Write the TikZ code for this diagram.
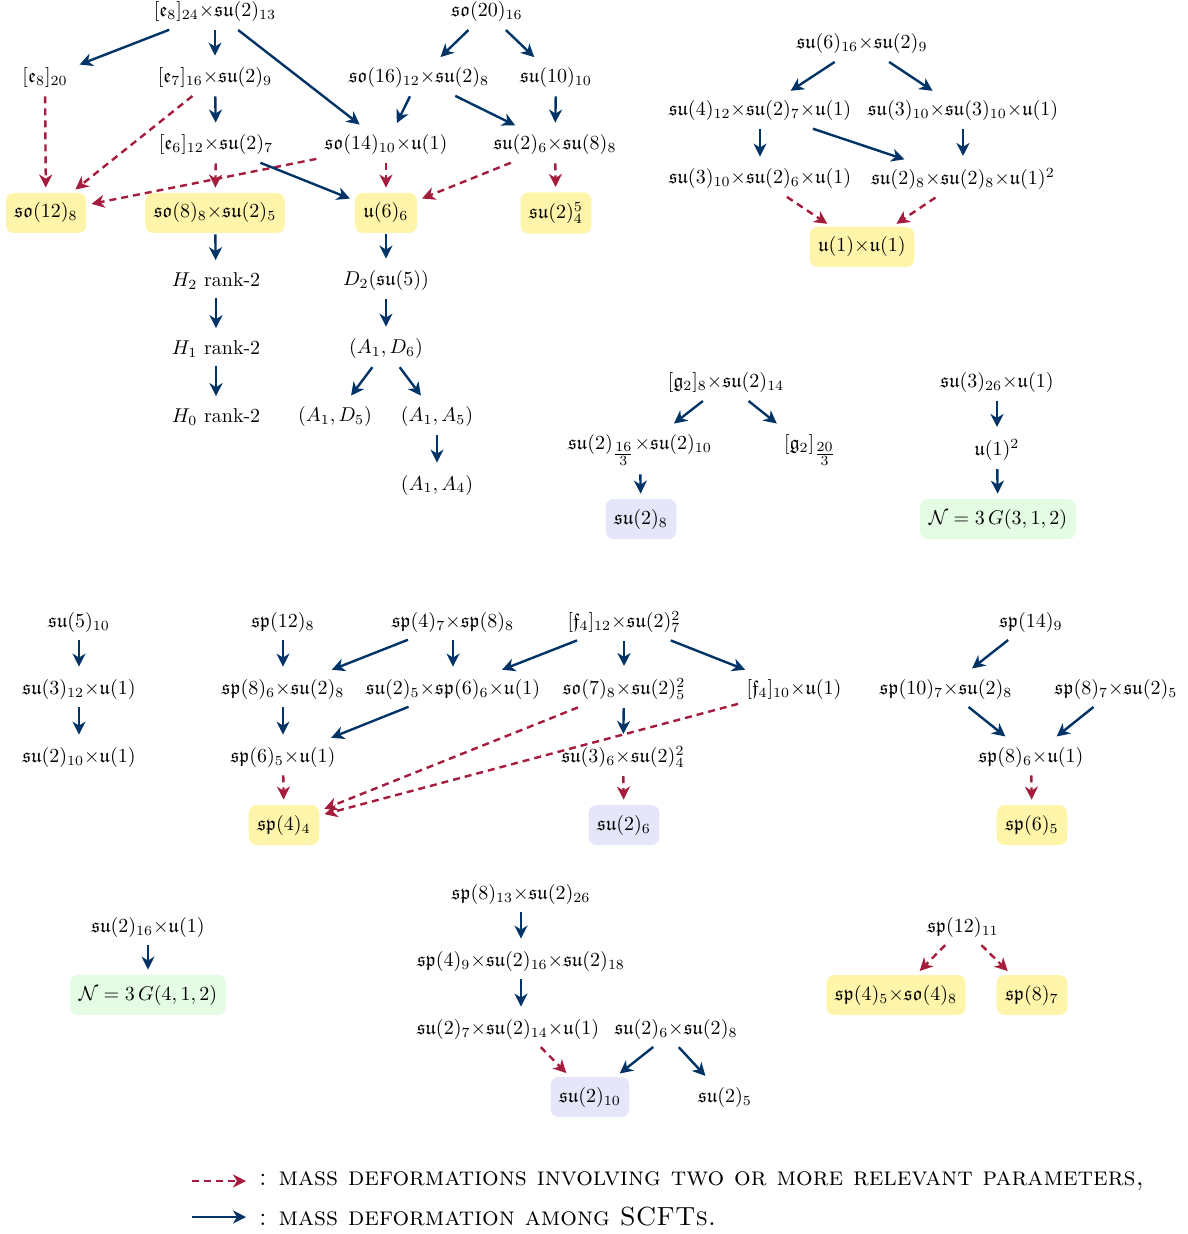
\documentclass[tikz,border=0pt]{standalone}
\usepackage{amsmath,amssymb}
\usetikzlibrary{arrows.meta}
\definecolor{navy}{RGB}{0,51,102}
\definecolor{crim}{RGB}{166,28,60}
\definecolor{yfill}{RGB}{255,245,170}
\definecolor{bfill}{RGB}{230,230,250}
\definecolor{gfill}{RGB}{228,251,228}
\newcommand{\Fsu}{\mathfrak{su}}
\newcommand{\Fso}{\mathfrak{so}}
\newcommand{\Fsp}{\mathfrak{sp}}
\newcommand{\Fu}{\mathfrak{u}}
\newcommand{\X}{{\times}}
\tikzset{
  t/.style={inner sep=3.5pt},
  boxbase/.style={rounded corners=4pt, inner xsep=4.3pt, inner ysep=5pt, minimum height=20pt},
  yb/.style={boxbase, fill=yfill},
  bb/.style={boxbase, fill=bfill},
  gb/.style={boxbase, fill=gfill},
  solidarr/.style={draw=navy, line width=1.2pt, -{Stealth[length=6.5pt,width=6.5pt,inset=2pt]}, shorten <=0.5pt, shorten >=2.5pt},
  dasharr/.style={draw=crim, line width=1.2pt, dash pattern=on 3.5pt off 2.5pt, -{Stealth[length=6.5pt,width=6.5pt,inset=2pt]}, shorten <=0.5pt, shorten >=2.5pt}
}
\begin{document}
\begin{tikzpicture}[x=0.5pt,y=-0.5pt]
\useasboundingbox (0,0) rectangle (1187,1234);
% group 1
\node[t] (e824) at (215,12) {$[\mathfrak{e}_8]_{24}\X\Fsu(2)_{13}$};
\node[t] (so20) at (487,12) {$\Fso(20)_{16}$};
\node[t] (e820) at (45,78) {$[\mathfrak{e}_8]_{20}$};
\node[t] (e7) at (215,78) {$[\mathfrak{e}_7]_{16}\X\Fsu(2)_{9}$};
\node[t] (so16) at (419,78) {$\Fso(16)_{12}\X\Fsu(2)_{8}$};
\node[t] (su10) at (556,78) {$\Fsu(10)_{10}$};
\node[t] (e6) at (216,145) {$[\mathfrak{e}_6]_{12}\X\Fsu(2)_{7}$};
\node[t] (so14) at (386,145) {$\Fso(14)_{10}\X\Fu(1)$};
\node[t] (su2su8) at (555,145) {$\Fsu(2)_{6}\X\Fsu(8)_{8}$};
\node[yb] (so12) at (46,213) {$\Fso(12)_{8}$};
\node[yb] (so8) at (215,213) {$\Fso(8)_{8}\X\Fsu(2)_{5}$};
\node[yb] (u6) at (386,213) {$\Fu(6)_{6}$};
\node[yb] (su25) at (556,213) {$\Fsu(2)^5_{4}$};
\node[t] (H2) at (216,281) {$H_2$ rank-2};
\node[t] (D2) at (386,281) {$D_2(\Fsu(5))$};
\node[t] (H1) at (216,349) {$H_1$ rank-2};
\node[t] (A1D6) at (386,349) {$(A_1,D_6)$};
\node[t] (H0) at (216,417) {$H_0$ rank-2};
\node[t] (A1D5) at (335,417) {$(A_1,D_5)$};
\node[t] (A1A5) at (437,417) {$(A_1,A_5)$};
\node[t] (A1A4) at (437,485) {$(A_1,A_4)$};
\draw[solidarr] (e824) -- (e820);
\draw[solidarr] (e824) -- (e7);
\draw[solidarr] (e824) -- (so14);
\draw[solidarr] (so20) -- (so16);
\draw[solidarr] (so20) -- (su10);
\draw[solidarr] (so16) -- (so14);
\draw[solidarr] (so16) -- (su2su8);
\draw[solidarr] (su10) -- (su2su8);
\draw[solidarr] (e7) -- (e6);
\draw[dasharr] (e820) -- (so12);
\draw[dasharr] (e7) -- (so12);
\draw[dasharr] (so14) -- (so12);
\draw[dasharr] (e6) -- (so8);
\draw[solidarr] (e6) -- (u6);
\draw[dasharr] (so14) -- (u6);
\draw[dasharr] (su2su8) -- (u6);
\draw[dasharr] (su2su8) -- (su25);
\draw[solidarr] (so8) -- (H2);
\draw[solidarr] (H2) -- (H1);
\draw[solidarr] (H1) -- (H0);
\draw[solidarr] (u6) -- (D2);
\draw[solidarr] (D2) -- (A1D6);
\draw[solidarr] (A1D6) -- (A1D5);
\draw[solidarr] (A1D6) -- (A1A5);
\draw[solidarr] (A1A5) -- (A1A4);
% group 2
\node[t] (su6) at (862,44) {$\Fsu(6)_{16}\X\Fsu(2)_{9}$};
\node[t] (su4) at (760,111) {$\Fsu(4)_{12}\X\Fsu(2)_{7}\X\Fu(1)$};
\node[t] (su33) at (963,111) {$\Fsu(3)_{10}\X\Fsu(3)_{10}\X\Fu(1)$};
\node[t] (su32) at (760,179) {$\Fsu(3)_{10}\X\Fsu(2)_{6}\X\Fu(1)$};
\node[t] (su22) at (963,179) {$\Fsu(2)_{8}\X\Fsu(2)_{8}\X\Fu(1)^2$};
\node[yb] (u1u1) at (862,247) {$\Fu(1)\X\Fu(1)$};
\draw[solidarr] (su6) -- (su4);
\draw[solidarr] (su6) -- (su33);
\draw[solidarr] (su4) -- (su32);
\draw[solidarr] (su4) -- (su22);
\draw[solidarr] (su33) -- (su22);
\draw[dasharr] (su32) -- (u1u1);
\draw[dasharr] (su22) -- (u1u1);
% group 3
\node[t] (g2) at (726,383) {$[\mathfrak{g}_2]_{8}\X\Fsu(2)_{14}$};
\node[t] (su2f) at (640,450) {$\Fsu(2)_{\textstyle\frac{16}{3}}\X\Fsu(2)_{10}$};
\node[t] (g220) at (810,450) {$[\mathfrak{g}_2]_{\textstyle\frac{20}{3}}$};
\node[bb] (su28) at (641,519) {$\Fsu(2)_{8}$};
\draw[solidarr] (g2) -- (su2f);
\draw[solidarr] (g2) -- (g220);
\draw[solidarr] (su2f) -- (su28);
% group 4
\node[t] (su326) at (997,383) {$\Fsu(3)_{26}\X\Fu(1)$};
\node[t] (u1sq) at (997,450) {$\Fu(1)^2$};
\node[gb] (N312) at (998,519) {$\mathcal{N}=3\,G(3,1,2)$};
\draw[solidarr] (su326) -- (u1sq);
\draw[solidarr] (u1sq) -- (N312);
% group 5
\node[t] (su5) at (79,622) {$\Fsu(5)_{10}$};
\node[t] (su312) at (79,689) {$\Fsu(3)_{12}\X\Fu(1)$};
\node[t] (su210u) at (79,757) {$\Fsu(2)_{10}\X\Fu(1)$};
\draw[solidarr] (su5) -- (su312);
\draw[solidarr] (su312) -- (su210u);
% group 6
\node[t] (sp12) at (283,622) {$\Fsp(12)_{8}$};
\node[t] (sp4sp8) at (453,622) {$\Fsp(4)_{7}\X\Fsp(8)_{8}$};
\node[t] (f4) at (624,622) {$[\mathfrak{f}_4]_{12}\X\Fsu(2)^2_{7}$};
\node[t] (sp8su2) at (283,689) {$\Fsp(8)_{6}\X\Fsu(2)_{8}$};
\node[t] (su2sp6) at (453,689) {$\Fsu(2)_{5}\X\Fsp(6)_{6}\X\Fu(1)$};
\node[t] (so7) at (624,689) {$\Fso(7)_{8}\X\Fsu(2)^2_{5}$};
\node[t] (f410) at (794,689) {$[\mathfrak{f}_4]_{10}\X\Fu(1)$};
\node[t] (sp6) at (283,757) {$\Fsp(6)_{5}\X\Fu(1)$};
\node[t] (su36) at (623,757) {$\Fsu(3)_{6}\X\Fsu(2)^2_{4}$};
\node[yb] (sp44) at (284,825) {$\Fsp(4)_{4}$};
\node[bb] (su26) at (624,825) {$\Fsu(2)_{6}$};
\draw[solidarr] (sp12) -- (sp8su2);
\draw[solidarr] (sp4sp8) -- (sp8su2);
\draw[solidarr] (sp4sp8) -- (su2sp6);
\draw[solidarr] (f4) -- (su2sp6);
\draw[solidarr] (f4) -- (so7);
\draw[solidarr] (f4) -- (f410);
\draw[solidarr] (sp8su2) -- (sp6);
\draw[solidarr] (su2sp6) -- (sp6);
\draw[solidarr] (so7) -- (su36);
\draw[dasharr] (sp6) -- (sp44);
\draw[dasharr] (so7) -- (sp44);
\draw[dasharr] (f410) -- (sp44);
\draw[dasharr] (su36) -- (su26);
% group 7
\node[t] (sp14) at (1031,622) {$\Fsp(14)_{9}$};
\node[t] (sp10) at (946,689) {$\Fsp(10)_{7}\X\Fsu(2)_{8}$};
\node[t] (sp87) at (1116,689) {$\Fsp(8)_{7}\X\Fsu(2)_{5}$};
\node[t] (sp86) at (1031,757) {$\Fsp(8)_{6}\X\Fu(1)$};
\node[yb] (sp65) at (1032,825) {$\Fsp(6)_{5}$};
\draw[solidarr] (sp14) -- (sp10);
\draw[solidarr] (sp10) -- (sp86);
\draw[solidarr] (sp87) -- (sp86);
\draw[dasharr] (sp86) -- (sp65);
% group 8
\node[t] (su216) at (148,927) {$\Fsu(2)_{16}\X\Fu(1)$};
\node[gb] (N412) at (148,995) {$\mathcal{N}=3\,G(4,1,2)$};
\draw[solidarr] (su216) -- (N412);
% group 9
\node[t] (sp813) at (521,894) {$\Fsp(8)_{13}\X\Fsu(2)_{26}$};
\node[t] (sp49) at (521,961) {$\Fsp(4)_{9}\X\Fsu(2)_{16}\X\Fsu(2)_{18}$};
\node[t] (su27) at (508,1029) {$\Fsu(2)_{7}\X\Fsu(2)_{14}\X\Fu(1)$};
\node[t] (su26su28) at (676,1029) {$\Fsu(2)_{6}\X\Fsu(2)_{8}$};
\node[bb] (su210) at (590,1097) {$\Fsu(2)_{10}$};
\node[t] (su25b) at (725,1097) {$\Fsu(2)_{5}$};
\draw[solidarr] (sp813) -- (sp49);
\draw[solidarr] (sp49.south) -- (sp49.south |- su27.north);
\draw[dasharr] ([xshift=16pt]su27.south) -- (su210);
\draw[solidarr] (su26su28) -- (su210);
\draw[solidarr] ([xshift=1pt]su26su28.south) -- (su25b);
% group 10
\node[t] (sp1211) at (963,927) {$\Fsp(12)_{11}$};
\node[yb] (sp4so4) at (896,995) {$\Fsp(4)_{5}\X\Fso(4)_{8}$};
\node[yb] (sp87b) at (1032,995) {$\Fsp(8)_{7}$};
\draw[dasharr] (sp1211) -- (sp4so4);
\draw[dasharr] (sp1211) -- (sp87b);
% legend
\coordinate (l1a) at (192,1181);
\coordinate (l1b) at (246,1181);
\coordinate (l2a) at (192,1217);
\coordinate (l2b) at (246,1217);
\draw[dasharr, shorten <=0pt, shorten >=0pt] (l1a) -- (l1b);
\draw[solidarr, shorten <=0pt, shorten >=0pt] (l2a) -- (l2b);
\node[anchor=west, inner sep=0pt, font=\fontsize{13.1}{16}\selectfont] (leg1) at (259,1181) {:\hspace{6pt}\textsc{mass deformations involving two or more relevant parameters,}};
\node[anchor=west, inner sep=0pt, font=\fontsize{13.1}{16}\selectfont] (leg2) at (259,1217) {:\hspace{6pt}\textsc{mass deformation among SCFTs.}};
\end{tikzpicture}
\end{document}
